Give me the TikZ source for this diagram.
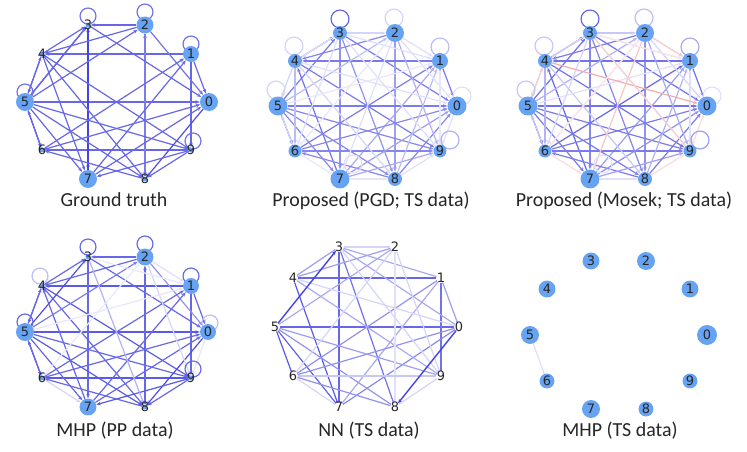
\documentclass[tikz,border=0pt]{standalone}
\usepackage{fontspec}
\setmainfont{Carlito}
\newfontfamily\dvfont{DejaVu Sans}
\usetikzlibrary{arrows.meta}
\pgfdeclarelayer{bgl}
\pgfdeclarelayer{edges}
\pgfsetlayers{bgl,edges,main}
\definecolor{nodeblue}{RGB}{102,163,242}
\definecolor{edgeblue}{RGB}{35,35,225}
\definecolor{edgered}{RGB}{225,70,70}
\tikzset{
  nd/.style={circle, fill=nodeblue, inner sep=0pt, draw=none},
  ghost/.style={circle, inner sep=0pt, minimum size=9pt, draw=none},
  lab/.style={font=\dvfont\fontsize{13}{13}\selectfont, text=black!85, inner sep=0pt},
  ed/.style={line width=1.2bp},
  ar/.style={-{Stealth[length=4.5pt,width=3.5pt]}},
  captxt/.style={font=\fontsize{20}{24}\selectfont, text=black!85, anchor=base, inner sep=0pt},
}
\newcommand\mkring[5]{%
  \foreach \k in {0,...,9} {\coordinate (#1c\k) at ({round(#2+#4*cos(36*\k))},{round(#3-#5*sin(36*\k))});}}
% edge strength #1 (0..1) -> percentage \pc
\newcommand\bl[1]{\pgfmathtruncatemacro\pc{100*#1}}
\begin{document}
\begin{tikzpicture}[x=1bp,y=-1bp]
\begin{pgfonlayer}{bgl}
\fill[white] (0,0) rectangle (747,452);
\end{pgfonlayer}
\useasboundingbox (0,0) rectangle (747,452);
% rings
\mkring{A}{116.5}{102}{92}{81}
\mkring{B}{367.5}{106}{89.5}{77}
\mkring{C}{617.5}{106}{89.5}{77}
\mkring{D}{116.5}{332}{91.5}{79}
\mkring{E}{367}{327}{92}{84}
\mkring{F}{618.5}{335}{88.5}{78}
% nodes
\foreach \k/\r in {0/9,1/8,2/8.5,3/2.5,4/2.5,5/9,6/2.5,7/9,8/2.5,9/2.5}
  {\node[nd, minimum size=2*\r pt] (A\k) at (Ac\k) {};}
\foreach \k/\r in {0/9.5,1/8,2/9,3/7,4/7,5/9.5,6/6.5,7/9.5,8/7,9/6.5}
  {\node[nd, minimum size=2*\r pt] (B\k) at (Bc\k) {};
   \node[nd, minimum size=2*\r pt] (C\k) at (Cc\k) {};}
\foreach \k/\r in {0/8,1/8,2/8.5,3/2.5,4/2.5,5/9,6/2.5,7/8.5,8/2.5,9/2.5}
  {\node[nd, minimum size=2*\r pt] (D\k) at (Dc\k) {};}
\foreach \k in {0,...,9}
  {\node[ghost] (E\k) at (Ec\k) {};}
\foreach \k/\r in {0/10,1/8.5,2/9,3/8.5,4/8.5,5/9,6/7.5,7/9,8/7.5,9/7.5}
  {\node[nd, minimum size=2*\r pt] (F\k) at (Fc\k) {};}
% labels
\foreach \p in {A,B,C,D,E,F}
  {\foreach \k in {0,...,9} {\node[lab] (\p\k t) at (\p c\k) {\k};}}
% captions
\node[captxt] (capA) at (114,207) {Ground truth};
\node[captxt] (capB) at (371,207) {Proposed (PGD; TS data)};
\node[captxt] (capC) at (624,207) {Proposed (Mosek; TS data)};
\node[captxt] (capD) at (115,436) {MHP (PP data)};
\node[captxt] (capE) at (369,436) {NN (TS data)};
\node[captxt] (capF) at (620,436) {MHP (TS data)};
\begin{pgfonlayer}{edges}
% ---------- A: ground truth
\foreach \s/\t/\o in {2/3/.7,1/4/.7,5/0/.7,9/6/.7,3/7/.85,7/3/.85,8/2/.75,2/8/.6,1/9/.7,2/0/.65,1/0/.7,3/0/.7,
  4/9/.7,4/8/.7,4/7/.7,5/4/.7,4/5/.7,5/3/.85,3/5/.7,5/2/.7,4/3/.7,2/4/.7,5/6/.9,6/5/.7,5/7/.7,5/8/.7,5/9/.7,
  6/1/.7,6/0/.7,7/1/.7,7/0/.7,0/8/.8,9/7/.7,9/8/.7,8/6/.7}
  {\bl{\o}\draw[ed,ar,draw=edgeblue!\pc!white] (A\s) -- (A\t);}
\foreach \k/\dx/\dy in {3/0/-9,2/0/-13,1/0/-10,5/0/-10,9/2/-9}
  {\draw[ed,draw=edgeblue!65!white] ([shift={(\dx,\dy)}]A\k.center) circle[radius=8pt];}
% ---------- B: PGD
\foreach \s/\t/\o in {4/3/.6,2/4/.55,5/3/.6,3/0/.6,3/7/.5,3/8/.5,2/8/.45,1/4/.6,4/9/.6,7/4/.65,1/0/.6,1/9/.55,
  6/1/.6,7/1/.4,5/0/.6,5/6/.65,5/7/.55,5/8/.55,5/9/.55,6/0/.55,6/9/.55,8/6/.55,7/0/.45,7/9/.4,8/0/.55,
  2/9/.35,3/2/.2,5/2/.3,4/6/.3,8/1/.3,
  3/1/.15,2/1/.15,2/0/.15,4/0/.15,4/5/.2,3/9/.15,3/6/.15,2/7/.15,2/6/.12,4/8/.2,6/7/.12,7/8/.12,
  8/9/.15,0/9/.15,5/1/.12,3/4/.15,9/1/.12,6/5/.2}
  {\bl{\o}\draw[ed,ar,draw=edgeblue!\pc!white] (B\s) -- (B\t);}
\foreach \k/\dx/\dy/\o in {3/0/-14/.7,2/-1/-15/.2,4/-1/-15/.2,5/-2/-16/.2,1/0/-14/.3,0/5/-10/.15,9/10/-11/.35,7/13/-15/.15}
  {\bl{\o}\draw[ed,draw=edgeblue!\pc!white] ([shift={(\dx,\dy)}]B\k.center) circle[radius=9pt];}
% ---------- C: Mosek
\foreach \s/\t/\o in {4/3/.65,2/4/.6,5/3/.65,3/0/.65,3/7/.55,3/8/.55,2/8/.5,1/4/.65,4/9/.65,7/4/.7,1/0/.65,1/9/.6,
  6/1/.7,7/1/.45,5/0/.65,5/6/.7,5/7/.6,5/8/.6,5/9/.6,6/0/.6,6/9/.6,8/6/.6,7/0/.5,7/9/.45,8/0/.6,
  2/9/.4,3/2/.25,5/2/.35,4/6/.35,8/1/.35,
  3/1/.2,2/0/.2,4/5/.25,3/6/.2,2/6/.15,4/8/.25,7/8/.15,5/1/.15,3/4/.2,9/1/.15,6/5/.25,3/9/.2}
  {\bl{\o}\draw[ed,ar,draw=edgeblue!\pc!white] (C\s) -- (C\t);}
\foreach \s/\t/\o in {4/0/.45,2/7/.3,3/9/.25,2/1/.3,5/4/.25,6/7/.2,8/9/.2,0/9/.2,2/6/.15,3/1/.15}
  {\bl{\o}\draw[ed,ar,draw=edgered!\pc!white] (C\s) -- (C\t);}
\foreach \k/\dx/\dy/\o in {3/0/-14/.7,2/-1/-15/.3,4/-1/-15/.25,5/-2/-16/.25,1/0/-14/.4,0/5/-10/.15,9/10/-11/.45,7/13/-15/.15}
  {\bl{\o}\draw[ed,draw=edgeblue!\pc!white] ([shift={(\dx,\dy)}]C\k.center) circle[radius=9pt];}
% ---------- D: MHP (PP data)
\foreach \s/\t/\o in {2/3/.7,1/4/.75,5/0/.75,9/6/.75,3/7/.7,8/2/.7,1/9/.7,2/0/.5,1/0/.7,3/0/.7,
  4/9/.75,4/8/.7,7/4/.7,5/4/.7,4/5/.7,5/3/.8,5/2/.6,4/3/.7,2/4/.7,5/6/.9,6/5/.7,5/7/.7,5/8/.75,5/9/.7,
  6/1/.7,6/0/.7,7/1/.7,7/0/.7,0/8/.8,9/7/.75,9/8/.7,8/6/.7,
  2/1/.15,2/9/.2,3/8/.35,6/7/.2,5/1/.12,3/1/.1,2/6/.1,0/9/.12}
  {\bl{\o}\draw[ed,ar,draw=edgeblue!\pc!white] (D\s) -- (D\t);}
\foreach \k/\dx/\dy/\o in {3/0/-10/.7,2/0/-13/.7,1/0/-10/.7,5/0/-10/.7,9/2/-9/.7,4/-2/-10/.3,0/2/-9/.3}
  {\bl{\o}\draw[ed,draw=edgeblue!\pc!white] ([shift={(\dx,\dy)}]D\k.center) circle[radius=8pt];}
% ---------- E: NN (TS data)
\foreach \s/\t/\o in {5/0/.7,5/6/.75,5/7/.7,4/7/.75,4/1/.7,3/7/.7,3/8/.65,1/9/.65,
  3/4/.45,3/1/.4,3/0/.4,2/4/.45,2/5/.4,1/6/.5,1/7/.4,6/0/.5,7/0/.55,5/8/.5,5/9/.45,4/9/.4,6/8/.5,1/0/.45,
  3/2/.2,2/6/.2,2/9/.2,2/8/.15,6/9/.25,6/7/.2,9/8/.2,4/0/.2,3/9/.2}
  {\bl{\o}\draw[ed,draw=edgeblue!\pc!white] (E\s) -- (E\t);}
\draw[ed,ar,draw=edgeblue!85!white,line width=1.4bp] (E5) -- (E3);
\draw[ed,ar,draw=edgeblue!85!white,line width=1.4bp] (E0) -- (E8);
% ---------- F: MHP (TS data)
\draw[ed,draw=edgeblue!15!white] (F5) -- (F6);
\end{pgfonlayer}
\end{tikzpicture}
\end{document}
